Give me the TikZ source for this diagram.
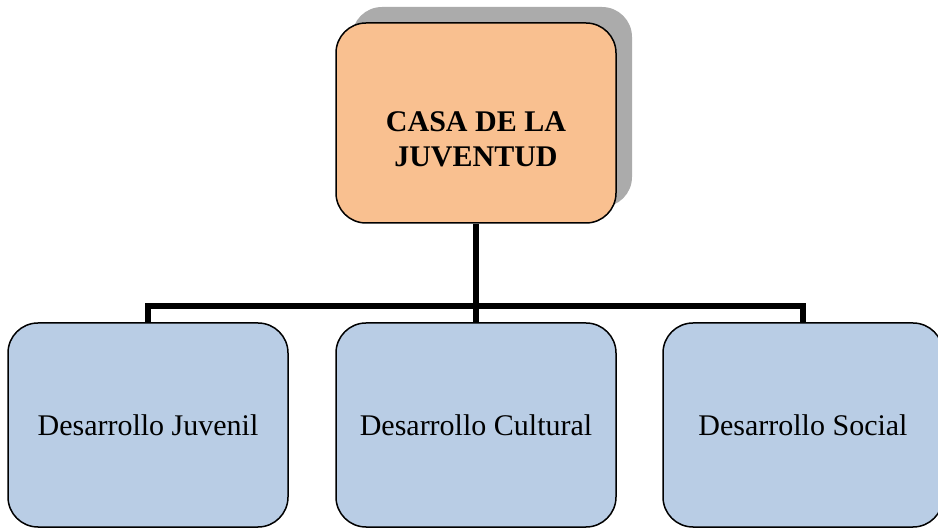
\documentclass[tikz,border=0pt]{standalone}
\usepackage{fontspec}
\setmainfont{Liberation Serif}
\definecolor{peach}{HTML}{F9C090}
\definecolor{lblue}{HTML}{B9CDE5}
\definecolor{shadowgray}{HTML}{ABABAB}
\begin{document}
\begin{tikzpicture}[x=1pt,y=-1pt,
  topbox/.style={draw=black,line width=1.5pt,fill=peach,rounded corners=30pt,
    minimum width=280pt,minimum height=200pt,inner sep=0pt},
  toptext/.style={align=center,inner sep=0pt,
    font=\fontsize{30}{35}\selectfont\bfseries},
  subbox/.style={draw=black,line width=1.5pt,fill=lblue,rounded corners=30pt,
    minimum width=280pt,minimum height=204pt,inner sep=0pt,align=center,
    font=\fontsize{30}{35}\selectfont},
  conn/.style={line width=5.5pt}]
\useasboundingbox (0,0) rectangle (938,529);
\fill[shadowgray,rounded corners=30pt] (352,7) rectangle (632,207);
\node[topbox] (top) at (476,123) {};
\node[toptext] (title) at (476,139) {CASA DE LA\\JUVENTUD};
\node[subbox] (a) at (148,425) {Desarrollo Juvenil};
\node[subbox] (b) at (476,425) {Desarrollo Cultural};
\node[subbox] (c) at (803,425) {Desarrollo Social};
\coordinate (mid) at (476,306);
\draw[conn] (top.south) -- (mid);
\draw[conn] (a.north) |- (mid) -| (c.north);
\draw[conn] (mid) -- (b.north);
\end{tikzpicture}
\end{document}
